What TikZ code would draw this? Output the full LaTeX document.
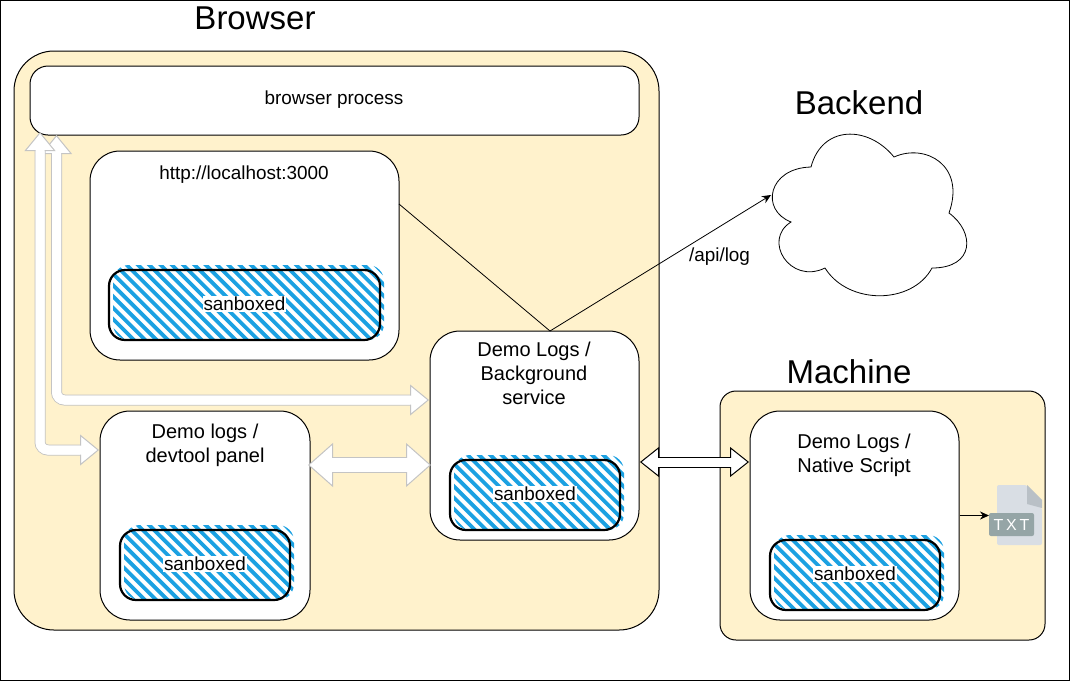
\documentclass[tikz,border=0pt]{standalone}
\usepackage{fontspec}
\setmainfont{Liberation Sans}
\usetikzlibrary{arrows.meta}

\definecolor{paneyellow}{HTML}{FFF2CC}
\definecolor{hatchblue}{HTML}{1BA1E2}
\definecolor{fatgray}{HTML}{C4C4C4}
\definecolor{pagegray}{HTML}{D9DEE4}
\definecolor{foldgray}{HTML}{B9C0C6}
\definecolor{bandgray}{HTML}{95A5A6}

\tikzset{
    pane/.style={draw,line width=1pt,fill=paneyellow,inner sep=0pt},
    panel/.style={draw,line width=1pt,fill=white,inner sep=0pt},
    heading/.style={font=\fontsize{33}{38}\selectfont},
    caption/.style={font=\fontsize{18.9}{24}\selectfont,align=center},
    bigcaption/.style={font=\fontsize{20}{24}\selectfont,align=center},
    fatline/.style={draw=fatgray,line width=1pt,double=white,double distance=9pt,rounded corners=8pt,
        {Triangle[fill=white,length=19pt,width=31pt,line width=1pt]}-{Triangle[fill=white,length=19pt,width=31pt,line width=1pt]}},
    fatboth/.style={draw=fatgray,line width=1pt,double=white,double distance=14pt,
        {Triangle[fill=white,length=25pt,width=44pt,line width=1pt]}-{Triangle[fill=white,length=25pt,width=44pt,line width=1pt]}},
    fatdark/.style={draw=black,line width=1pt,double=white,double distance=9pt,
        {Triangle[fill=white,length=19pt,width=30pt,line width=1pt]}-{Triangle[fill=white,length=19pt,width=30pt,line width=1pt]}},
    fatcore/.style={white,line width=#1,rounded corners=8pt},
    thinarrow/.style={-{Stealth[length=9pt,width=8pt]},line width=0.8pt},
}

% hatched box with its label, #1 name, #2 #3 centre, #4 width
\newcommand{\sanbox}[4]{
    \begin{scope}[shift={(#2,#3)}]
        \begin{scope}
            \clip[rounded corners=16pt] ({-#4/2+4},-40) rectangle ({#4/2+4},35);
            \foreach \i in {-14,...,32} {
                \draw[hatchblue,line width=3.8pt] ({-#4/2-60+\i*11.3},-50) -- ++(100,100);
            }
        \end{scope}
        \node[draw,line width=2.2pt,rounded corners=16pt,minimum width=#4pt,minimum height=70pt] (#1) at (0,0) {};
        \node[caption,fill=white,inner sep=1pt] (#1text) at (0,-1) {sanboxed};
    \end{scope}
}

\begin{document}
\begin{tikzpicture}[x=1pt,y=-1pt]
    \useasboundingbox (0,0) rectangle (1070,681);
    \draw[fill=white] (0.5,0.5) rectangle (1069.5,680.5);

    \node[pane,rounded corners=40pt,minimum width=645pt,minimum height=579pt] (browser) at (336.5,340.5) {};
    \node[pane,rounded corners=16pt,minimum width=325pt,minimum height=249pt] (machine) at (882.5,515.5) {};
    \node[panel,rounded corners=18pt,minimum width=609pt,minimum height=69pt] (process) at (334.5,100.5) {};
    \node[panel,rounded corners=30pt,minimum width=309pt,minimum height=209pt] (localhost) at (244.5,255.5) {};
    \node[panel,rounded corners=30pt,minimum width=210pt,minimum height=209pt] (devtool) at (205,515.5) {};
    \node[panel,rounded corners=30pt,minimum width=209pt,minimum height=209pt] (background) at (534.5,435.5) {};
    \node[panel,rounded corners=30pt,minimum width=209pt,minimum height=209pt] (native) at (854.5,515.5) {};

    \node[heading] (browsertitle) at (255,18) {Browser};
    \node[heading] (backendtitle) at (859,103) {Backend};
    \node[heading] (machinetitle) at (849,372) {Machine};
    \node[caption] (processtext) at (334,100) {browser process};
    \node[caption] (localhosttext) at (244,175) {http://localhost:3000};
    \node[bigcaption] (devtooltext) at (205,445) {Demo logs /\\devtool panel};
    \node[bigcaption] (backgroundtext) at (534,373) {Demo Logs /\\Background\\service};
    \node[bigcaption] (nativetext) at (854,455) {Demo Logs /\\Native Script};

    \sanbox{boxlocal}{244.5}{305}{271}
    \sanbox{boxdevtool}{205}{565}{170}
    \sanbox{boxbackground}{535}{495}{170}
    \sanbox{boxnative}{855}{575}{170}

    % cloud
    \draw[line width=0.8pt,fill=white] (811,167)
        .. controls (822,125) and (868,125) .. (894,157)
        .. controls (925,143) and (966,165) .. (949,213)
        .. controls (975,232) and (975,268) .. (932,268)
        .. controls (912,305) and (848,305) .. (825,268)
        .. controls (790,285) and (762,240) .. (791,222)
        .. controls (760,210) and (768,168) .. (811,167) -- cycle;
    \coordinate (cloudin) at (771,195);

    % connectors
    \coordinate (localout) at (399,204);
    \coordinate (backtop) at (550,331);
    \draw[line width=0.8pt] (localout) -- (backtop);
    \draw[thinarrow] (backtop) -- (cloudin);
    \node[caption,fill=white,inner sep=1pt] (apilabel) at (719.5,257) {/api/log};

    \coordinate (procleft) at (40,132);
    \coordinate (procright) at (56.5,135);
    \coordinate (devtoolin) at (99,450);
    \coordinate (backin) at (429,400);
    \draw[fatline] (procright) |- (backin);
    \draw[fatcore=9pt,shorten <=15pt,shorten >=15pt] (procright) |- (backin);
    \draw[fatline] (procleft) |- (devtoolin);
    \draw[fatcore=9pt,shorten <=15pt,shorten >=15pt] (procleft) |- (devtoolin);
    \coordinate (devright) at (308,465);
    \coordinate (backleft) at (431,465);
    \draw[fatboth] (devright) -- (backleft);
    \draw[fatcore=14pt,shorten <=20pt,shorten >=20pt] (devright) -- (backleft);
    \coordinate (backright) at (640,462);
    \coordinate (nativeleft) at (749,462);
    \draw[fatdark] (backright) -- (nativeleft);
    \draw[fatcore=9pt,shorten <=15pt,shorten >=15pt] (backright) -- (nativeleft);

    % file icon
    \fill[pagegray,rounded corners=2pt] (997,485) -- (1027,485) -- (1042,508) -- (1042,545) -- (997,545) -- cycle;
    \fill[foldgray] (1027,485) -- (1042,500) -- (1042,508) -- (1027,504) -- cycle;
    \node[fill=bandgray,rounded corners=2pt,text=white,minimum width=45pt,minimum height=23pt,inner sep=0pt,
        font=\fontsize{16}{18}\selectfont] (txtfile) at (1011.5,524.5) {T\,X\,T};
    \coordinate (txtin) at (989,515.5);
    \draw[thinarrow] (native.east) -- (txtin);
\end{tikzpicture}
\end{document}
